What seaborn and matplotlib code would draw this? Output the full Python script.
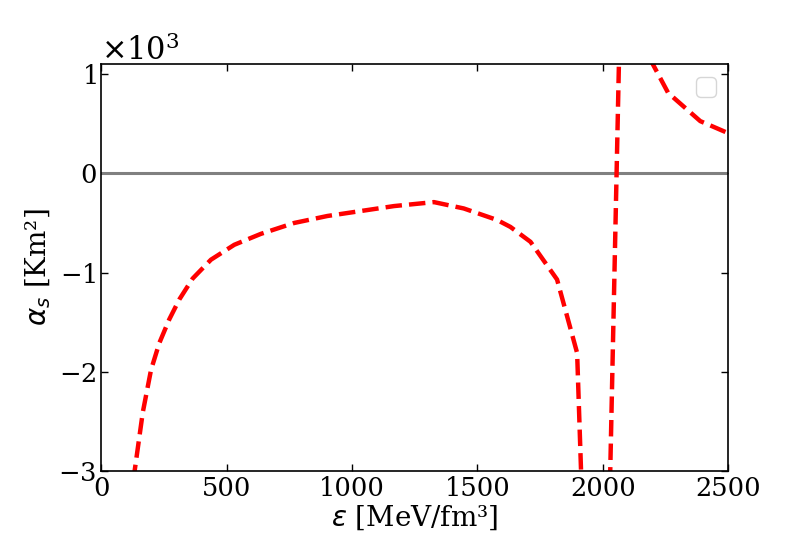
import numpy as np
import pandas as pd
import matplotlib
matplotlib.use("Agg")
import matplotlib.pyplot as plt
import seaborn as sns

# Dữ liệu (x: MeV/fm^3, y: Km^2)
eps_left = [128, 166, 199, 232, 272, 312, 365, 438, 531, 637, 770, 902,
            1035, 1168, 1327, 1446, 1579, 1632, 1712, 1818, 1898, 1915]
alpha_left = [-3100, -2410, -1980, -1710, -1470, -1270, -1060, -870, -720,
              -610, -500, -430, -380, -330, -290, -354, -470, -540, -690,
              -1070, -1810, -3100]

eps_mid = [2025, 2068]
alpha_mid = [-3600, 1500]

eps_right = [2185, 2261, 2389, 2500]
alpha_right = [1170, 810, 526, 405]

x_ticks = [0, 500, 1000, 1500, 2000, 2500]

sns.set_style("ticks")
plt.rcParams['font.family'] = ['DejaVu Serif']
plt.rcParams['font.size'] = 18
plt.rcParams['xtick.direction'] = 'in'
plt.rcParams['ytick.direction'] = 'in'
plt.rcParams['xtick.top'] = True
plt.rcParams['ytick.right'] = True
for k in ['text.color', 'axes.labelcolor', 'xtick.color', 'ytick.color', 'axes.edgecolor']:
    plt.rcParams[k] = 'black'

fig = plt.figure(figsize=(8.09, 5.39), dpi=100)
ax = fig.add_axes([0.125, 0.126, 0.775, 0.755])

# Đường 0
ax.axhline(0, color='grey', lw=2.2)

for xs, ys in [(eps_left, alpha_left), (eps_mid, alpha_mid), (eps_right, alpha_right)]:
    df = pd.DataFrame({'eps': xs, 'alpha': ys})
    sns.lineplot(data=df, x='eps', y='alpha', ax=ax, color='red', lw=3.2,
                 linestyle='--', sort=False)

ax.set_xlim(0, 2500)
ax.set_ylim(-3000, 1100)
ax.set_xticks(x_ticks)
ax.ticklabel_format(axis='y', style='sci', scilimits=(0, 0), useMathText=True)
ax.tick_params(labelsize=18.5, length=5, width=1)
ax.yaxis.get_offset_text().set_fontsize(22)
ax.set_xlabel(r'$\varepsilon$ [MeV/fm³]', fontsize=20, labelpad=2)
ax.set_ylabel(r'$\alpha_s$ [Km²]', fontsize=20, labelpad=4)
for s in ax.spines.values():
    s.set_linewidth(1.2)

# Chú thích trống như trong hình gốc
ax.legend(loc='upper right', fontsize=18)

fig.savefig('out.png', dpi=100)
